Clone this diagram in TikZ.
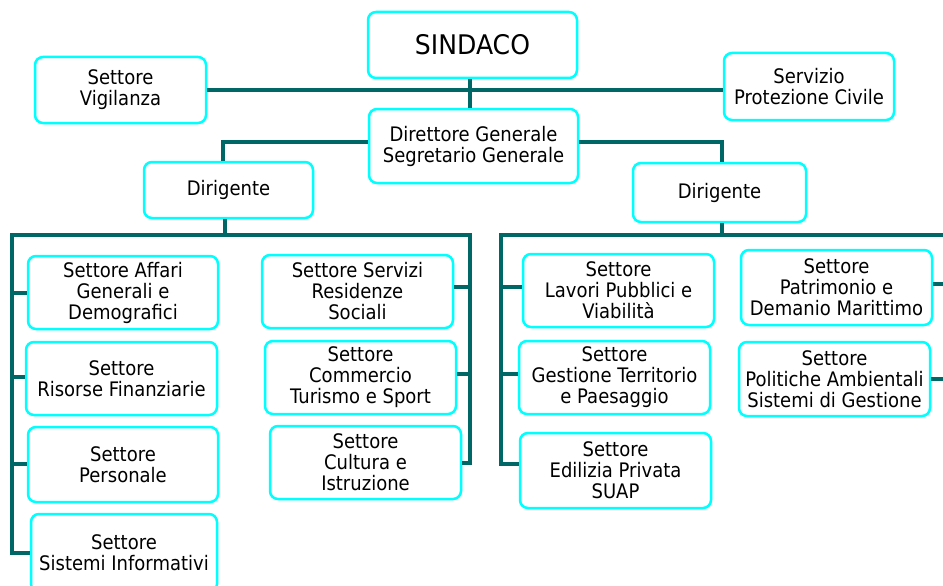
\documentclass[tikz,border=0pt]{standalone}
\usepackage{fontspec}
\newfontfamily\boxfont[FakeStretch=0.9]{DejaVu Sans}
\newfontfamily\bigfont[FakeStretch=0.93]{DejaVu Sans}
\definecolor{linecol}{RGB}{0,102,102}
\definecolor{boxcol}{RGB}{0,255,255}
\tikzset{
  box/.style={draw=boxcol, line width=2.5pt, rounded corners=8pt, fill=white,
    align=center, inner sep=0pt, text=black,
    font=\boxfont\fontsize{20}{21}\selectfont},
  bigbox/.style={box, font=\bigfont\fontsize{27}{30}\selectfont},
  conn/.style={draw=linecol, line width=4pt, line join=miter}
}
\begin{document}
\begin{tikzpicture}[x=1pt,y=-1pt]
\useasboundingbox (0,0) rectangle (943,586);
\clip (0,0) rectangle (943,586);
% top level
\node[bigbox, minimum width=209pt, minimum height=66pt] (sind) at (472.5,45) {SINDACO};
\node[box, minimum width=171pt, minimum height=66pt] (vig) at (120.5,90) {Settore\\Vigilanza};
\node[box, minimum width=170pt, minimum height=67pt] (prot) at (809,86.5) {Servizio\\Protezione Civile};
\node[box, minimum width=209pt, minimum height=74pt] (dir) at (473.5,146) {Direttore Generale\\Segretario Generale};
\node[box, minimum width=169pt, minimum height=56pt] (dirL) at (228.5,190) {Dirigente};
\node[box, minimum width=173pt, minimum height=59pt] (dirR) at (719.5,192.5) {Dirigente};
% left group
\node[box, minimum width=190pt, minimum height=73pt] (aff) at (123,292.5) {Settore Affari\\Generali e\\Demografici};
\node[box, minimum width=191pt, minimum height=73pt] (ris) at (121.5,378.5) {Settore\\Risorse Finanziarie};
\node[box, minimum width=190pt, minimum height=75pt] (per) at (123,464.5) {Settore\\Personale};
\node[box, minimum width=186pt, minimum height=78pt] (sis) at (124,553) {Settore\\Sistemi Informativi};
\node[box, minimum width=191pt, minimum height=73pt] (ser) at (357.5,291.5) {Settore Servizi\\Residenze\\Sociali};
\node[box, minimum width=191pt, minimum height=73pt] (com) at (360.5,377.5) {Settore\\Commercio\\Turismo e Sport};
\node[box, minimum width=191pt, minimum height=73pt] (cul) at (365.5,462.5) {Settore\\Cultura e\\Istruzione};
% right group
\node[box, minimum width=191pt, minimum height=73pt] (lav) at (618.5,290.5) {Settore\\Lavori Pubblici e\\Viabilità};
\node[box, minimum width=191pt, minimum height=73pt] (ges) at (614.5,377.5) {Settore\\Gestione Territorio\\e Paesaggio};
\node[box, minimum width=191pt, minimum height=75pt] (edi) at (615.5,470.5) {Settore\\Edilizia Privata\\SUAP};
\node[box, minimum width=191pt, minimum height=75pt] (pat) at (836.5,287.5) {Settore\\Patrimonio e\\Demanio Marittimo};
\node[box, minimum width=191pt, minimum height=74pt] (pol) at (834.5,379) {Settore\\Politiche Ambientali\\Sistemi di Gestione};
% bus coordinates
\coordinate (lt) at (12,235);
\coordinate (rt) at (470,235);
\coordinate (rlt) at (501,235);
\coordinate (rv) at (948,235);
% connectors
\draw[conn] (vig.east) -- (vig.east -| prot.west);
\draw[conn] ([xshift=-3pt]sind.south) -- ([xshift=-3pt]sind.south |- dir.north);
\draw[conn] ([yshift=4pt]dir.west) -| ([xshift=-6pt]dirL.north);
\draw[conn] ([yshift=4pt]dir.east) -| ([xshift=2pt]dirR.north);
\draw[conn] ([xshift=-4pt]dirL.south) -- ([xshift=-4pt]dirL.south |- lt);
\draw[conn] ([xshift=2pt]dirR.south) -- ([xshift=2pt]dirR.south |- rlt);
% left bus
\draw[conn] (sis.west) -- (sis.west -| lt) -- (lt) -- (rt) -- (rt |- cul.east) -- (cul.east);
\draw[conn] (aff.west) -- (aff.west -| lt);
\draw[conn] ([yshift=2pt]ris.west) -- ([yshift=2pt]ris.west -| lt);
\draw[conn] ([yshift=1pt]per.west) -- ([yshift=1pt]per.west -| lt);
\draw[conn] ([yshift=5pt]ser.east) -- ([yshift=5pt]ser.east -| rt);
\draw[conn] ([yshift=4pt]com.east) -- ([yshift=4pt]com.east -| rt);
% right bus
\draw[conn] ([yshift=7pt]edi.west) -- ([yshift=7pt]edi.west -| rlt) -- (rlt) -- (rv) -- (rv |- pol.east);
\draw[conn] ([yshift=4pt]lav.west) -- ([yshift=4pt]lav.west -| rlt);
\draw[conn] ([yshift=4pt]ges.west) -- ([yshift=4pt]ges.west -| rlt);
\draw[conn] ([yshift=4pt]pat.east) -- ([yshift=4pt]pat.east -| rv);
\draw[conn] (pol.east) -- (pol.east -| rv);
\end{tikzpicture}
\end{document}
